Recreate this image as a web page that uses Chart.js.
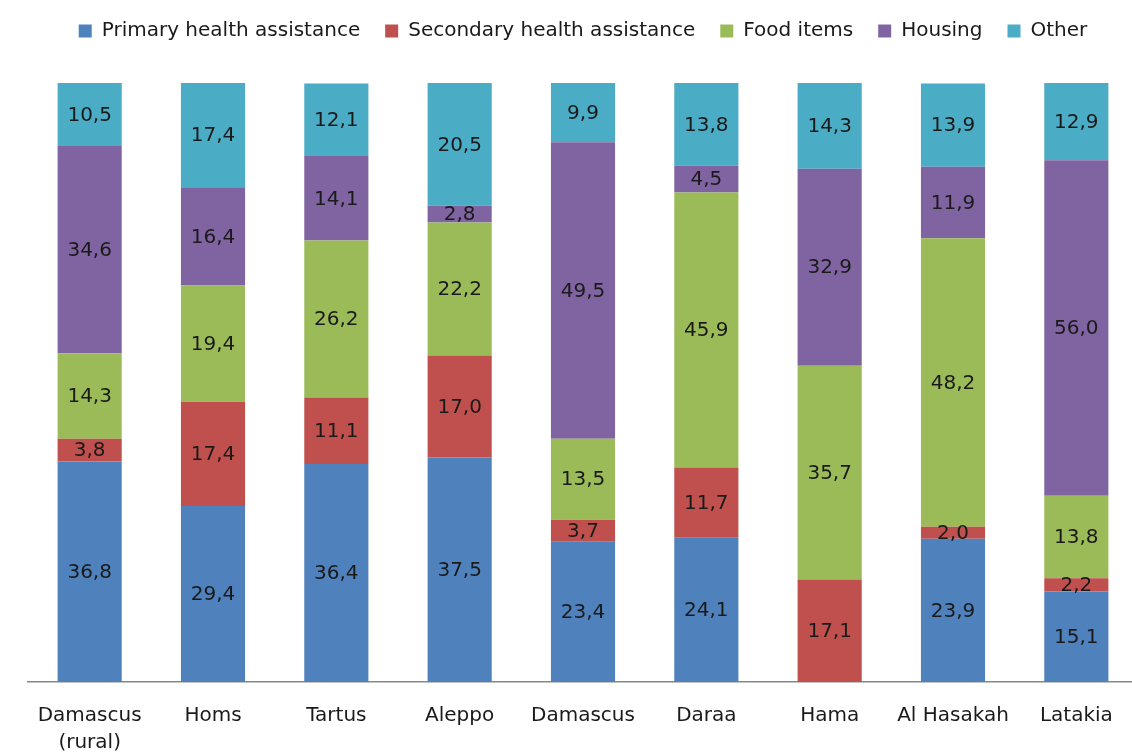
<!DOCTYPE html>
<html>
<head>
<meta charset="utf-8">
<script src="https://cdn.jsdelivr.net/npm/chart.js@4"></script>
<style>
  html, body { margin: 0; padding: 0; background: #fff; overflow: hidden; }
  #wrap { width: 1180px; height: 754px; overflow: hidden; }
</style>
</head>
<body>
<div id="wrap"><canvas id="chart" width="1180" height="776"></canvas></div>
<script>
// regions
const regions = [["Damascus", "(rural)"], "Homs", "Tartus", "Aleppo", "Damascus", "Daraa", "Hama", "Al Hasakah", "Latakia"];

// shares in %, one array per category of assistance
const primaryHealth   = [36.8, 29.4, 36.4, 37.5, 23.4, 24.1, 0,    23.9, 15.1];
const secondaryHealth = [3.8,  17.4, 11.1, 17.0, 3.7,  11.7, 17.1, 2.0,  2.2];
const foodItems       = [14.3, 19.4, 26.2, 22.2, 13.5, 45.9, 35.7, 48.2, 13.8];
const housing         = [34.6, 16.4, 14.1, 2.8,  49.5, 4.5,  32.9, 11.9, 56.0];
const other           = [10.5, 17.4, 12.1, 20.5, 9.9,  13.8, 14.3, 13.9, 12.9];

const FONT = "'DejaVu Sans', Verdana, sans-serif";

// extra room between legend and bars
const legendGap = {
    id: "legendGap",
    beforeInit(chart) {
        const fit = chart.legend.fit;
        chart.legend.fit = function () {
            fit.call(this);
            this.height += 32;
        };
    }
};

// write value in the middle of each segment, comma decimals
const segmentLabels = {
    id: "segmentLabels",
    afterDatasetsDraw(chart) {
        const ctx = chart.ctx;
        ctx.save();
        ctx.font = "20px " + FONT;
        ctx.fillStyle = "#1a1a1a";
        ctx.textAlign = "center";
        ctx.textBaseline = "middle";
        chart.data.datasets.forEach((ds, i) => {
            const meta = chart.getDatasetMeta(i);
            meta.data.forEach((bar, j) => {
                const v = ds.data[j];
                if (!v) return;
                const p = bar.getProps(["x", "y", "base"], true);
                ctx.fillText(v.toFixed(1).replace(".", ","), p.x, (p.y + p.base) / 2 + 1);
            });
        });
        ctx.restore();
    }
};

new Chart(document.getElementById("chart"), {
    type: "bar",
    data: {
        labels: regions,
        datasets: [
            { label: "Primary health assistance", data: primaryHealth, backgroundColor: "#4F81BD" },
            { label: "Secondary health assistance", data: secondaryHealth, backgroundColor: "#C0504D" },
            { label: "Food items", data: foodItems, backgroundColor: "#9BBB59" },
            { label: "Housing", data: housing, backgroundColor: "#8064A2" },
            { label: "Other", data: other, backgroundColor: "#4BACC6" }
        ]
    },
    options: {
        responsive: false,
        animation: false,
        layout: { padding: { left: 28, right: 42, top: -4, bottom: 0 } },
        datasets: { bar: { barPercentage: 0.52, categoryPercentage: 1, borderWidth: 0 } },
        plugins: {
            tooltip: { enabled: false },
            legend: {
                position: "top",
                labels: {
                    boxWidth: 13,
                    boxHeight: 13,
                    padding: 25,
                    color: "#1a1a1a",
                    font: { family: FONT, size: 20 }
                }
            }
        },
        scales: {
            x: {
                stacked: true,
                grid: { display: false, drawTicks: false },
                border: { display: true, color: "#888", width: 1.5 },
                ticks: { color: "#1a1a1a", padding: 20, font: { family: FONT, size: 20, lineHeight: 1.35 }, maxRotation: 0, autoSkip: false }
            },
            y: {
                stacked: true,
                display: false,
                min: 0,
                max: 100
            }
        }
    },
    plugins: [legendGap, segmentLabels]
});
</script>
</body>
</html>
